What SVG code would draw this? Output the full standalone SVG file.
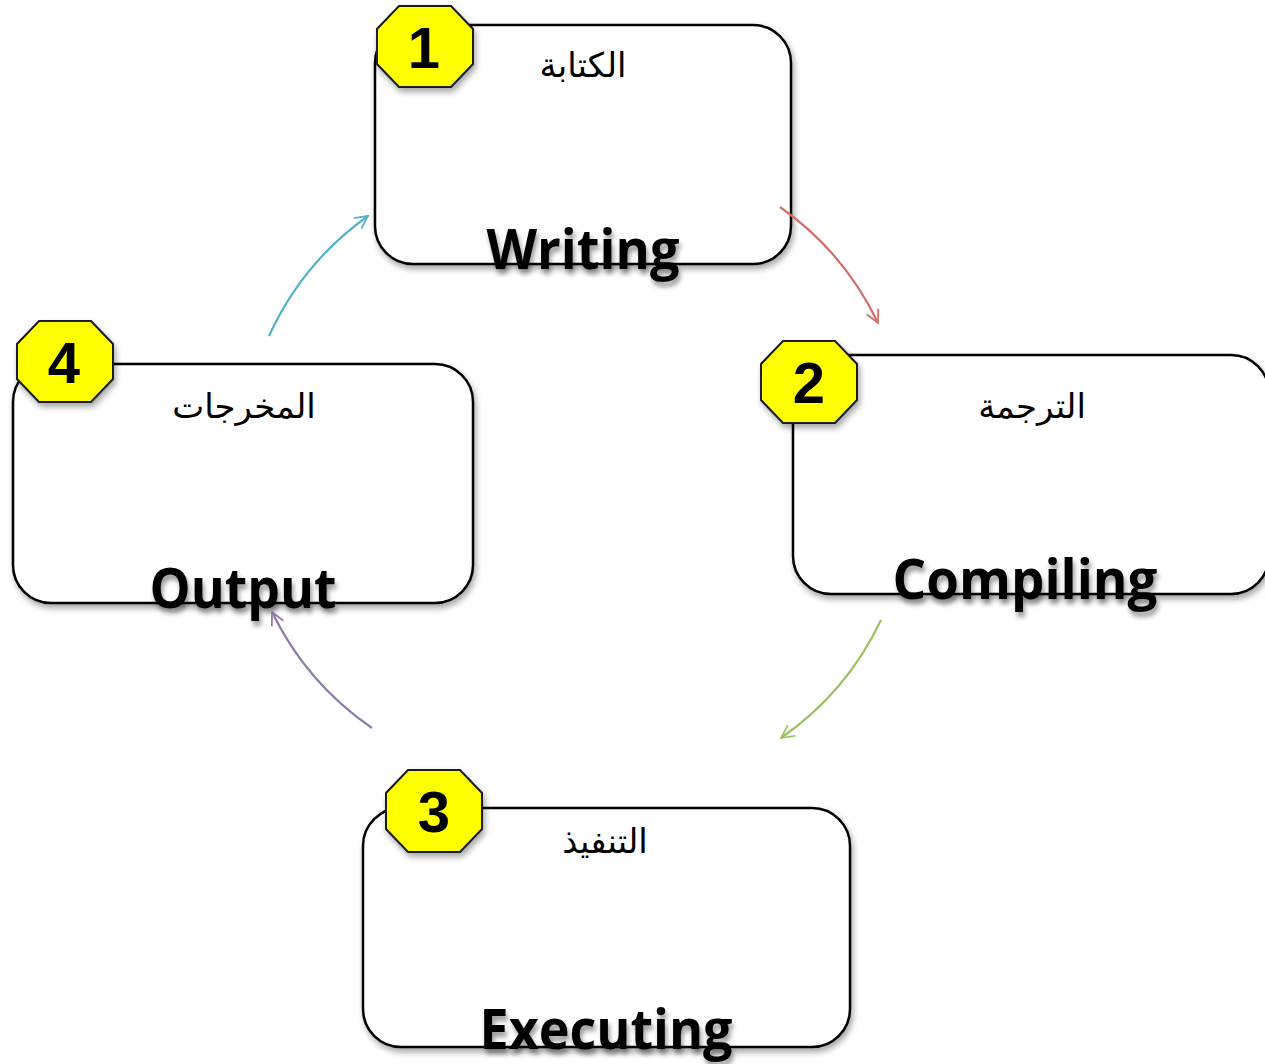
<svg xmlns="http://www.w3.org/2000/svg" width="1265" height="1064" viewBox="0 0 1265 1064">
<defs>
<filter id="sh" x="-10%" y="-10%" width="130%" height="140%">
<feGaussianBlur in="SourceAlpha" stdDeviation="3"/>
<feOffset dx="2" dy="4" result="b"/>
<feComponentTransfer><feFuncA type="linear" slope="0.35"/></feComponentTransfer>
<feMerge><feMergeNode/><feMergeNode in="SourceGraphic"/></feMerge>
</filter>
<filter id="tsh" x="-10%" y="-20%" width="130%" height="160%">
<feGaussianBlur in="SourceAlpha" stdDeviation="2.5"/>
<feOffset dx="2" dy="5" result="b"/>
<feComponentTransfer><feFuncA type="linear" slope="0.4"/></feComponentTransfer>
<feMerge><feMergeNode/><feMergeNode in="SourceGraphic"/></feMerge>
</filter>
<marker id="ah-red" viewBox="0 0 20 20" refX="18" refY="10" markerWidth="16" markerHeight="16" markerUnits="userSpaceOnUse" orient="auto"><path d="M2,2 L18,10 L2,18" fill="none" stroke="#d0706c" stroke-width="2.2"/></marker>
<marker id="ah-green" viewBox="0 0 20 20" refX="18" refY="10" markerWidth="16" markerHeight="16" markerUnits="userSpaceOnUse" orient="auto"><path d="M2,2 L18,10 L2,18" fill="none" stroke="#9bc162" stroke-width="2.2"/></marker>
<marker id="ah-purple" viewBox="0 0 20 20" refX="18" refY="10" markerWidth="16" markerHeight="16" markerUnits="userSpaceOnUse" orient="auto"><path d="M2,2 L18,10 L2,18" fill="none" stroke="#8e78b0" stroke-width="2.2"/></marker>
<marker id="ah-blue" viewBox="0 0 20 20" refX="18" refY="10" markerWidth="16" markerHeight="16" markerUnits="userSpaceOnUse" orient="auto"><path d="M2,2 L18,10 L2,18" fill="none" stroke="#55b0cb" stroke-width="2.2"/></marker>
</defs>
<style>
.box{fill:#fff;stroke:#000;stroke-width:2.5;filter:url(#sh)}
.oct{fill:#ffff00;stroke:#1a1a1a;stroke-width:2;filter:url(#sh)}
.num{font-family:"Liberation Sans",Arial,sans-serif;font-weight:bold;font-size:58px;fill:#000;text-anchor:middle}
.en{font-family:"Open Sans","Liberation Sans",sans-serif;font-weight:bold;font-size:56px;fill:#000;text-anchor:middle;filter:url(#tsh)}
.ar{font-family:"DejaVu Sans","Noto Sans",sans-serif;font-size:34px;fill:#000;text-anchor:middle}
.con{fill:none;stroke-width:2.2}
</style>
<g id="node1">
<rect class="box" x="375" y="25" width="416" height="239" rx="38"/>
<path class="oct" d="M399,6 L451,6 L473,29 L473,64 L451,87 L399,87 L377,64 L377,29 Z"/>
<text class="num" x="424" y="68">1</text>
<text class="ar" x="583" y="77" direction="rtl">الكتابة</text>
<text class="en" x="583" y="269" textLength="193" lengthAdjust="spacingAndGlyphs">Writing</text>
</g>
<g id="node2">
<rect class="box" x="793" y="355" width="476" height="239" rx="38"/>
<path class="oct" d="M783,341 L835,341 L857,364 L857,400 L835,423 L783,423 L761,400 L761,364 Z"/>
<text class="num" x="809" y="403">2</text>
<text class="ar" x="1032" y="418" direction="rtl">الترجمة</text>
<text class="en" x="1025" y="599" textLength="265" lengthAdjust="spacingAndGlyphs">Compiling</text>
</g>
<g id="node3">
<rect class="box" x="363" y="808" width="487" height="239" rx="38"/>
<path class="oct" d="M408,770 L460,770 L482,793 L482,829 L460,852 L408,852 L386,829 L386,793 Z"/>
<text class="num" x="434" y="832">3</text>
<text class="ar" x="605" y="853" direction="rtl">التنفيذ</text>
<text class="en" x="606" y="1049" textLength="253" lengthAdjust="spacingAndGlyphs">Executing</text>
</g>
<g id="node4">
<rect class="box" x="13" y="364" width="460" height="239" rx="38"/>
<path class="oct" d="M39,321 L91,321 L113,344 L113,379 L91,402 L39,402 L17,379 L17,344 Z"/>
<text class="num" x="64" y="383">4</text>
<text class="ar" x="244" y="418" direction="rtl">المخرجات</text>
<text class="en" x="243" y="608" textLength="187" lengthAdjust="spacingAndGlyphs">Output</text>
</g>
<g id="connectors">
<path class="con" d="M780,207 A300,300 0 0 1 878,323" stroke="#d0706c" marker-end="url(#ah-red)"/>
<path class="con" d="M881,620 A300,300 0 0 1 781,738" stroke="#9bc162" marker-end="url(#ah-green)"/>
<path class="con" d="M372,728 A300,300 0 0 1 272,612" stroke="#8e78b0" marker-end="url(#ah-purple)"/>
<path class="con" d="M269,336 A300,300 0 0 1 368,216" stroke="#55b0cb" marker-end="url(#ah-blue)"/>
</g>
</svg>
